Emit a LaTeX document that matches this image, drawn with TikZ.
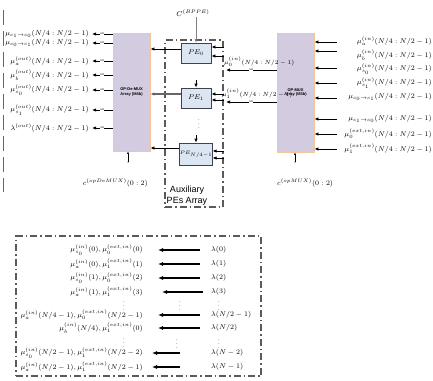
\documentclass[tikz,border=0pt]{standalone}
\usepackage{fontspec}
\setsansfont{Liberation Sans}
\usetikzlibrary{arrows.meta}
\definecolor{boxpurple}{HTML}{D3CBE0}
\definecolor{boxedge}{HTML}{F5C59A}
\definecolor{pefill}{HTML}{DCE6F2}
\definecolor{peedge}{HTML}{404050}
\definecolor{blueline}{HTML}{1F77C8}
\definecolor{auxgray}{HTML}{5A5A5A}
\newcommand{\ctoc}[2]{\mu_{c_{#1}\to c_{#2}}}
\begin{document}
\begin{tikzpicture}[x=1pt,y=-1pt,
 lbl/.style={inner sep=0pt,font=\fontsize{7.3}{9}\selectfont},
 slbl/.style={inner sep=0pt,font=\fontsize{5.6}{7}\selectfont},
 tlbl/.style={inner sep=0pt,font=\fontsize{6.8}{8}\selectfont},
 arr/.style={-{Latex[length=4pt,width=3.4pt]},line width=0.9pt},
 garr/.style={arr,draw=gray!80!black,line width=1.1pt},
 barr/.style={-{Latex[length=5pt,width=4pt]},line width=1.3pt},
 tinylbl/.style={fill=white,inner sep=0.3pt,font=\fontsize{2.5}{3}\selectfont\sffamily},
 mux/.style={draw=boxedge,fill=boxpurple,line width=0.8pt,align=center,inner sep=0pt,font=\fontsize{4}{4.6}\selectfont\sffamily\bfseries},
 pe/.style={draw=peedge,fill=pefill,line width=0.8pt,minimum width=30pt,minimum height=20pt,inner sep=0pt,font=\fontsize{7.5}{9}\selectfont},
 dashdot/.style={draw=auxgray,line width=1.2pt,dash pattern=on 7pt off 3pt on 1.5pt off 3pt}]
\useasboundingbox (0,0) rectangle (433,380);

% blue dashed line
\draw[blueline,line width=1pt,dash pattern=on 15pt off 6pt] (3,10) -- (3,192);

% mux boxes
\node[mux,minimum width=37pt,minimum height=118pt] (demux) at (131.5,92) {OP-De-MUX\\Array (M4b)};
\node[mux,minimum width=37pt,minimum height=119pt] (mux) at (295.5,92.5) {OP-MUX\\Array (M3b)};

% auxiliary box
\node[dashdot,minimum width=58pt,minimum height=167pt,inner sep=0pt] (aux) at (194,123.5) {};
\node[font=\fontsize{9}{11}\selectfont\sffamily,align=center,inner sep=0pt] (auxlbl) at (187,195.5) {Auxiliary\\PEs Array};

% PEs
\node[pe] (pe0) at (196,53) {$PE_0$};
\node[pe] (pe1) at (196,98) {$PE_1$};
\node[pe,minimum height=22pt,font=\fontsize{5.5}{6}\selectfont] (pe2) at (196,154) {$PE_{N/4-1}$};
\node[inner sep=0pt,font=\fontsize{6}{6}\selectfont] (vd) at (199,121) {$\vdots$};

\node[inner sep=0pt,font=\fontsize{7.5}{8}\selectfont] (cb) at (193,13) {$C^{(BPPE)}$};
\draw[-{Latex[length=3.5pt,width=3pt]},gray,line width=0.5pt] (pe0.north |- cb.south) -- (pe0.north);
\coordinate (t1) at (196,80);
\coordinate (t2) at (196,135);
\draw[arr] (t1) -- (pe1.north);
\draw[arr] (t2) -- (pe2.north);

% PE outputs
\draw[arr] ([yshift=4pt]pe0.west) -- ([yshift=4pt]pe0.west -| demux.east);
\draw[garr] ([yshift=4pt]pe1.west) -- ([yshift=4pt]pe1.west -| demux.east);
\draw[arr] ([yshift=6pt]pe2.west) -- ([yshift=6pt]pe2.west -| demux.east);

% PE inputs
\draw[arr] ([yshift=6pt]pe0.east -| aux.east) -- ([yshift=6pt]pe0.east);
\draw[arr] ([yshift=-3pt]pe0.east -| aux.east) -- ([yshift=-3pt]pe0.east);
\draw[arr] ([yshift=4pt]pe1.east -| aux.east) -- ([yshift=4pt]pe1.east);
\draw[arr] ([yshift=-2pt]pe1.east -| aux.east) -- ([yshift=-2pt]pe1.east);
\draw[arr] ([yshift=3pt]pe2.east -| aux.east) -- ([yshift=3pt]pe2.east);
\draw[arr] ([yshift=-4pt]pe2.east -| aux.east) -- ([yshift=-4pt]pe2.east);

% mux -> aux
\coordinate (m0) at (226,70);
\coordinate (m1) at (226,102);
\draw[arr] (mux.west |- m0) -- node[tinylbl] {M4} (m0);
\draw[arr] (mux.west |- m1) -- node[tinylbl] {M4} (m1);
\node[slbl,anchor=west] (m0l) at (224,62) {$\mu_0^{(in)}(N/4:N/2-1)$};
\node[slbl,anchor=west] (m1l) at (222,94) {$\mu_1^{(in)}(N/4:N/2-1)$};

% left outputs
\foreach \n/\y/\t in {1/34/{\ctoc{1}{0}(N/4:N/2-1)},
                      2/43/{\ctoc{0}{1}(N/4:N/2-1)},
                      3/61/{\mu_a^{(out)}(N/4:N/2-1)},
                      4/75/{\mu_b^{(out)}(N/4:N/2-1)},
                      5/90/{\mu_{s_0}^{(out)}(N/4:N/2-1)},
                      6/110/{\mu_{s_1}^{(out)}(N/4:N/2-1)},
                      7/128/{\lambda^{(out)}(N/4:N/2-1)}}{
  \coordinate (la\n) at (92,\y);
  \node[lbl,anchor=east] (l\n) at (89,\y) {$\t$};
  \draw[arr] (demux.west |- la\n) -- node[tinylbl] {M4} (la\n);
}

% right inputs
\foreach \n/\y/\ly/\t in {1/42/41/{\mu_a^{(in)}(N/4:N/2-1)},
                      2/51/55/{\mu_b^{(in)}(N/4:N/2-1)},
                      3/68/69/{\mu_{s_0}^{(in)}(N/4:N/2-1)},
                      4/83/83/{\mu_{s_1}^{(in)}(N/4:N/2-1)},
                      5/98/97/{\ctoc{0}{1}(N/4:N/2-1)},
                      6/119/119/{\ctoc{1}{0}(N/4:N/2-1)},
                      7/134/134/{\mu_0^{(ext,in)}(N/4:N/2-1)},
                      8/149/149/{\mu_1^{(ext,in)}(N/4:N/2-1)}}{
  \coordinate (ra\n) at (337,\y);
  \node[lbl,anchor=east] (r\n) at (432,\ly) {$\t$};
  \draw[arr] (ra\n) -- (ra\n -| mux.east);
}

% control inputs
\node[tinylbl] (s1) at (128,163) {3};
\node[tinylbl] (s2) at (295,163) {3};
\draw[-{Latex[length=2.5pt,width=2pt]},line width=0.5pt] (s1) -- (s1 |- demux.south);
\draw[-{Latex[length=2.5pt,width=2pt]},line width=0.5pt] (s2) -- (s2 |- mux.south);
\node[inner sep=0pt,font=\fontsize{7}{8}\selectfont,anchor=east] (cd) at (148,183) {$c^{(opDeMUX)}(0:2)$};
\node[inner sep=0pt,font=\fontsize{7}{8}\selectfont,anchor=west] (cm) at (277,183) {$c^{(opMUX)}(0:2)$};

% bottom table
\node[dashdot,minimum width=245pt,minimum height=140pt,inner sep=0pt] (tbl) at (138.5,306) {};
\foreach \n/\y/\xa/\xb/\t/\l in {
   1/250/200/158/{\mu_{s_0}^{(in)}(0),\mu_0^{(ext,in)}(0)}/{\lambda(0)},
   2/264/200/158/{\mu_a^{(in)}(0),\mu_1^{(ext,in)}(1)}/{\lambda(1)},
   3/278/200/158/{\mu_{s_0}^{(in)}(1),\mu_0^{(ext,in)}(2)}/{\lambda(2)},
   4/292/203/162/{\mu_a^{(in)}(1),\mu_1^{(ext,in)}(3)}/{\lambda(3)},
   5/315/200/158/{\mu_a^{(in)}(N/4-1),\mu_0^{(ext,in)}(N/2-1)}/{\lambda(N/2-1)},
   6/328/200/158/{\mu_b^{(in)}(N/4),\mu_1^{(ext,in)}(0)}/{\lambda(N/2)},
   7/353/180/152/{\mu_{s_0}^{(in)}(N/2-1),\mu_1^{(ext,in)}(N/2-2)}/{\lambda(N-2)},
   8/367/180/152/{\mu_a^{(in)}(N/2-1),\mu_1^{(ext,in)}(N/2-1)}/{\lambda(N-1)}}{
  \coordinate (ba\n) at (\xa,\y);
  \coordinate (bb\n) at (\xb,\y);
  \node[tlbl,anchor=east] (bl\n) at (143,\y) {$\t$};
  \node[tlbl,anchor=west] (br\n) at (211,\y) {$\l$};
  \draw[barr] (ba\n) -- (bb\n);
}
\foreach \x/\y in {124/303,124/340,180/303,177/341,219/303,219/341}{
  \node[inner sep=0pt,font=\fontsize{6}{6}\selectfont] at (\x,\y) {$\vdots$};
}
\end{tikzpicture}
\end{document}
